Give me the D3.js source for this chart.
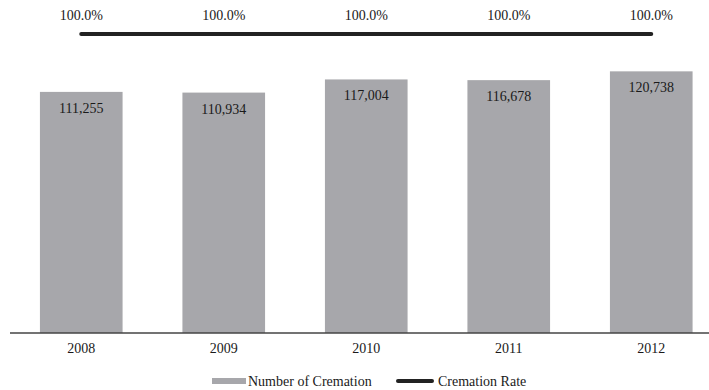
<!DOCTYPE html>
<html>
<head>
<meta charset="utf-8">
<script src="https://cdn.jsdelivr.net/npm/d3@7"></script>
<style>
  html, body { margin: 0; padding: 0; background: #fff; }
  svg { display: block; }
  text { font-family: "Liberation Serif", "Times New Roman", serif; fill: #1a1a1a; }
</style>
</head>
<body>
<svg id="chart" width="709" height="390"></svg>
<script>
// Cremation counts and cremation rate by year
const years = ["2008", "2009", "2010", "2011", "2012"];
const cremations = [111255, 110934, 117004, 116678, 120738];
const cremationRate = [1.0, 1.0, 1.0, 1.0, 1.0];

const svg = d3.select("#chart");
const baseY = 333;
const fontSize = "14px";

const x = d3.scaleBand()
  .domain(years)
  .range([10, 722.5])
  .paddingInner(0.42)
  .paddingOuter(0.21);

const y = d3.scaleLinear().domain([0, 140000]).range([baseY, 29.6]);
const yRate = d3.scaleLinear().domain([0, 1]).range([baseY, 34]);

const fmtNum = d3.format(",");
const fmtPct = d3.format(".1%");

// Bars
svg.append("g").selectAll("rect")
  .data(years)
  .join("rect")
  .attr("x", d => x(d))
  .attr("y", (d, i) => y(cremations[i]))
  .attr("width", x.bandwidth())
  .attr("height", (d, i) => baseY - y(cremations[i]))
  .attr("fill", "#a7a7ab");

// Bar value labels
svg.append("g").selectAll("text")
  .data(years)
  .join("text")
  .attr("x", d => x(d) + x.bandwidth() / 2)
  .attr("y", (d, i) => y(cremations[i]) + 21)
  .attr("text-anchor", "middle")
  .style("font-size", fontSize)
  .text((d, i) => fmtNum(cremations[i]));

// Category axis
const axis = svg.append("g")
  .attr("transform", `translate(0,${baseY})`)
  .call(d3.axisBottom(x).tickSize(0).tickPadding(10));
axis.select(".domain").remove();
axis.selectAll("text")
  .style("font-size", fontSize)
  .style("font-family", "'Liberation Serif', serif")
  .attr("fill", "#1a1a1a");
svg.append("line")
  .attr("x1", 10).attr("x2", 709)
  .attr("y1", baseY).attr("y2", baseY)
  .attr("stroke", "#444").attr("stroke-width", 1.6);

// Rate line
const line = d3.line()
  .x((d, i) => x(years[i]) + x.bandwidth() / 2)
  .y(d => yRate(d));
svg.append("path")
  .datum(cremationRate)
  .attr("d", line)
  .attr("fill", "none")
  .attr("stroke", "#222")
  .attr("stroke-width", 4)
  .attr("stroke-linecap", "round");

// Rate labels
svg.append("g").selectAll("text")
  .data(years)
  .join("text")
  .attr("x", d => x(d) + x.bandwidth() / 2)
  .attr("y", 20)
  .attr("text-anchor", "middle")
  .style("font-size", fontSize)
  .text((d, i) => fmtPct(cremationRate[i]));

// Legend
const legend = svg.append("g");
legend.append("rect")
  .attr("x", 212).attr("y", 378)
  .attr("width", 34).attr("height", 6)
  .attr("fill", "#a7a7ab");
legend.append("text")
  .attr("x", 248).attr("y", 385.5)
  .style("font-size", fontSize)
  .text("Number of Cremation");
legend.append("line")
  .attr("x1", 398).attr("x2", 432)
  .attr("y1", 381).attr("y2", 381)
  .attr("stroke", "#222").attr("stroke-width", 4)
  .attr("stroke-linecap", "round");
legend.append("text")
  .attr("x", 438).attr("y", 385.5)
  .style("font-size", fontSize)
  .text("Cremation Rate");
</script>
</body>
</html>
